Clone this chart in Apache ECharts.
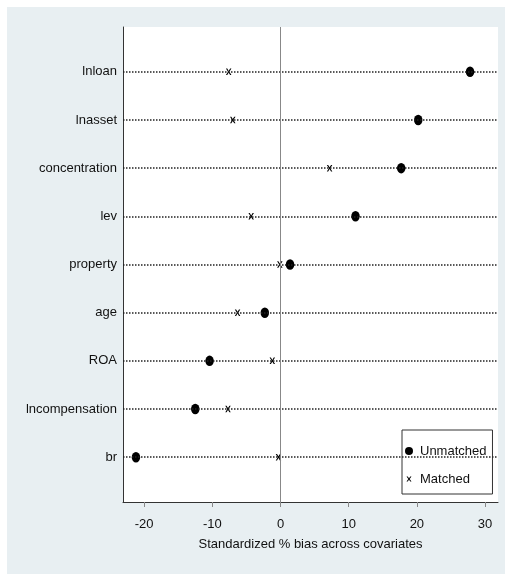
<!DOCTYPE html>
<html>
<head>
<meta charset="utf-8">
<script src="https://cdn.jsdelivr.net/npm/echarts@6/dist/echarts.min.js"></script>
<style>html,body{margin:0;padding:0;background:#fff;}#c{width:505px;height:574px;}</style>
</head>
<body>
<div id="c"></div>
<script>
const categories = ['lnloan','lnasset','concentration','lev','property','age','ROA','lncompensation','br'];
const unmatched = [27.8, 20.2, 17.7, 11.0, 1.4, -2.3, -10.4, -12.5, -21.2];
const matched = [-7.6, -7.0, 7.2, -4.3, -0.1, -6.3, -1.2, -7.7, -0.3];
const xTicks = [-20, -10, 0, 10, 20, 30];
const xTitle = 'Standardized % bias across covariates';

const FONT = "'Liberation Sans', Arial, sans-serif";
const FS = 13;
const rows = categories.map((c, i) => i + 1);
const X_SHAPE = 'M0,0 L2.4,0 L5,3.6 L7.6,0 L10,0 L6.3,5 L10,10 L7.6,10 L5,6.4 L2.4,10 L0,10 L3.7,5 Z';
const xSymbol = 'path://' + X_SHAPE;
const xLegendIcon = 'path://M-3,-3.3 M13,13.3 ' + X_SHAPE;

const chart = echarts.init(document.getElementById('c'), null, {renderer: 'canvas'});
chart.setOption({
  animation: false,
  backgroundColor: '#e8eff2',
  textStyle: {fontFamily: FONT},
  graphic: [
    {type: 'rect', silent: true, shape: {x: 0, y: 0, width: 505, height: 7}, style: {fill: '#ffffff'}},
    {type: 'rect', silent: true, shape: {x: 0, y: 0, width: 7, height: 574}, style: {fill: '#ffffff'}}
  ],
  grid: {left: 123, top: 27, right: 7, bottom: 72, show: true, backgroundColor: '#ffffff', borderWidth: 0},
  xAxis: {
    type: 'value', min: -23.1, max: 31.9,
    axisLine: {show: true, onZero: false, lineStyle: {color: '#333', width: 1}},
    axisTick: {show: true, customValues: xTicks, length: 5, lineStyle: {color: '#888'}},
    axisLabel: {customValues: xTicks, margin: 16, fontSize: FS, color: '#111', fontFamily: FONT},
    splitLine: {show: false},
    name: xTitle, nameLocation: 'middle', nameGap: 36,
    nameTextStyle: {fontSize: FS, color: '#111', fontFamily: FONT}
  },
  yAxis: {
    type: 'value', min: 0.07, max: 9.93, inverse: true,
    axisLine: {show: true, onZero: false, lineStyle: {color: '#333', width: 1}},
    axisTick: {show: false},
    axisLabel: {customValues: rows, formatter: v => categories[Math.round(v) - 1], margin: 6, fontSize: FS, color: '#111', fontFamily: FONT},
    splitLine: {show: false}
  },
  legend: {
    orient: 'vertical', left: 402, top: 430,
    backgroundColor: '#ffffff', borderColor: '#333', borderWidth: 1, borderRadius: 0,
    padding: [12, 6, 6, 3], itemWidth: 8, itemHeight: 10, itemGap: 10,
    textStyle: {fontSize: FS, color: '#111', fontFamily: FONT, lineHeight: 18, padding: [0, 0, 0, 2]},
    data: [{name: 'Unmatched', icon: 'circle'}, {name: 'Matched', icon: xLegendIcon}]
  },
  series: [
    {
      name: 'guides', type: 'line', data: [], z: 1, silent: true,
      markLine: {
        silent: true, symbol: 'none', label: {show: false},
        lineStyle: {type: [1.5, 1.5], color: '#222', width: 1.5},
        emphasis: {disabled: true},
        data: rows.map(r => ({yAxis: r}))
      }
    },
    {
      name: 'zero', type: 'line', data: [], z: 1, silent: true,
      markLine: {
        silent: true, symbol: 'none', label: {show: false},
        lineStyle: {type: 'solid', color: '#888', width: 1},
        emphasis: {disabled: true},
        data: [{xAxis: 0}]
      }
    },
    {
      name: 'Unmatched', type: 'scatter', z: 3,
      symbol: 'circle', symbolSize: [8.5, 10.5],
      itemStyle: {color: '#000', opacity: 1},
      emphasis: {disabled: true},
      data: unmatched.map((v, i) => [v, rows[i]])
    },
    {
      name: 'Matched', type: 'scatter', z: 3,
      symbol: xSymbol, symbolSize: [5.5, 6.5],
      itemStyle: {color: '#000', opacity: 1},
      emphasis: {disabled: true},
      data: matched.map((v, i) => [v, rows[i]])
    }
  ]
});
</script>
</body>
</html>
